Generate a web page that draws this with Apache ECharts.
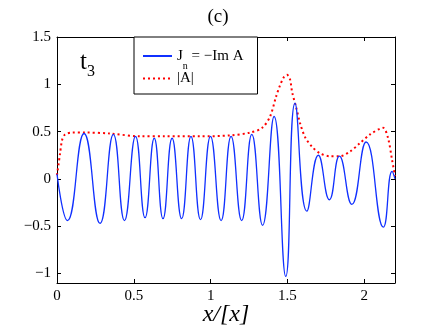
<!DOCTYPE html>
<html>
<head>
<meta charset="utf-8">
<script src="https://cdn.jsdelivr.net/npm/echarts@6/dist/echarts.min.js"></script>
<style>
  html, body { margin: 0; padding: 0; background: #fff; }
  #chart { width: 436px; height: 328px; }
</style>
</head>
<body>
<div id="chart"></div>
<script>
// J_n = -Im A : extrema
const jnX = [0, 0.068, 0.176, 0.280, 0.367, 0.439, 0.511, 0.573, 0.633, 0.690, 0.749, 0.811, 0.872,
  0.934, 0.999, 1.068, 1.133, 1.202, 1.268, 1.338, 1.413, 1.489, 1.549, 1.626, 1.701, 1.773,
  1.838, 1.919, 2.012, 2.124, 2.181, 2.2];
const jnY = [0.05, -0.44, 0.48, -0.47, 0.47, -0.44, 0.45, -0.41, 0.43, -0.42, 0.43, -0.42, 0.45,
  -0.43, 0.45, -0.44, 0.45, -0.44, 0.47, -0.49, 0.66, -1.03, 0.80, -0.34, 0.25, -0.22,
  0.24, -0.27, 0.39, -0.51, 0.08, 0.0];

// |A|
const absX = [0, 0.020, 0.033, 0.052, 0.098, 0.182, 0.345, 0.540, 0.703, 0.931, 1.126, 1.257,
  1.335, 1.387, 1.426, 1.452, 1.478, 1.497, 1.517, 1.530, 1.556, 1.582, 1.615, 1.660, 1.712,
  1.777, 1.842, 1.908, 1.973, 2.038, 2.122, 2.155, 2.181, 2.2];
const absY = [0.04, 0.27, 0.41, 0.47, 0.49, 0.49, 0.48, 0.45, 0.45, 0.45, 0.46, 0.49,
  0.54, 0.66, 0.87, 0.99, 1.08, 1.10, 1.05, 0.92, 0.76, 0.59, 0.44, 0.34, 0.27,
  0.24, 0.24, 0.29, 0.38, 0.47, 0.54, 0.43, 0.20, 0.03];

const xTicks = [0, 0.5, 1, 1.5, 2];
const yTicks = [-1, -0.5, 0, 0.5, 1, 1.5];

const serif = 'Liberation Serif';

const chart = echarts.init(document.getElementById('chart'));

function axis(pos, ticks, min, max, labels) {
  return {
    type: 'value',
    position: pos,
    min: min,
    max: max,
    axisLine: { show: true, onZero: false, lineStyle: { color: '#000', width: 1 } },
    axisTick: { show: true, inside: true, length: 4, customValues: ticks, lineStyle: { color: '#000' } },
    axisLabel: {
      show: labels,
      customValues: ticks,
      color: '#000',
      fontFamily: serif,
      fontSize: 15,
      margin: 6,
      formatter: v => String(v).replace('-', '\u2212')
    },
    splitLine: { show: false }
  };
}

const xBottom = axis('bottom', xTicks, 0, 2.2, true);
xBottom.name = 'x/[x]';
xBottom.nameLocation = 'middle';
xBottom.nameGap = 20;
xBottom.nameMoveOverlap = false;
xBottom.nameTextStyle = { fontFamily: serif, fontStyle: 'italic', fontSize: 24, color: '#000', verticalAlign: 'top' };

const option = {
  animation: false,
  title: {
    text: '(c)',
    left: 'center',
    top: 3,
    textStyle: { fontFamily: serif, fontSize: 19, fontWeight: 'normal', color: '#000' }
  },
  grid: { left: 57, right: 41, top: 37, bottom: 45, containLabel: false, outerBoundsMode: 'none' },
  xAxis: [xBottom, axis('top', xTicks, 0, 2.2, false)],
  yAxis: [axis('left', yTicks, -1.1, 1.5, true), axis('right', yTicks, -1.1, 1.5, false)],
  legend: {
    orient: 'vertical',
    left: 134,
    top: 37,
    padding: [4, 14, 8, 8],
    itemGap: 0,
    itemWidth: 29,
    itemHeight: 10,
    borderColor: '#000',
    borderWidth: 1,
    borderRadius: 0,
    backgroundColor: '#fff',
    itemStyle: { opacity: 0 },
    data: ['Jn', 'absA'],
    formatter: name => name === 'Jn' ? '{a|J}{s|n}{a| = \u2212Im A}' : '{a||A|}',
    textStyle: {
      color: '#000',
      rich: {
        a: { fontFamily: serif, fontSize: 15, lineHeight: 22, color: '#000' },
        s: { fontFamily: serif, fontSize: 10, lineHeight: 10, padding: [20, 0, 0, 0], color: '#000' }
      }
    }
  },
  graphic: [{
    type: 'text',
    left: 80,
    top: 45,
    style: {
      text: '{t|t}{s|3}',
      rich: {
        t: { fontFamily: serif, fontSize: 25, lineHeight: 28, fill: '#000' },
        s: { fontFamily: serif, fontSize: 16, lineHeight: 12, padding: [19, 0, 0, 0], fill: '#000' }
      }
    }
  }],
  series: [
    {
      name: 'Jn',
      type: 'line',
      data: jnX.map((x, i) => [x, jnY[i]]),
      smooth: 0.5,
      symbol: 'none',
      z: 3,
      itemStyle: { color: '#1030ff' },
      lineStyle: { color: '#1030ff', width: 1.3 }
    },
    {
      name: 'absA',
      type: 'line',
      data: absX.map((x, i) => [x, absY[i]]),
      smooth: 0.3,
      symbol: 'none',
      z: 2,
      itemStyle: { color: '#ff0000' },
      lineStyle: { color: '#ff0000', width: 2, type: [2, 3] }
    }
  ]
};

chart.setOption(option);
</script>
</body>
</html>
